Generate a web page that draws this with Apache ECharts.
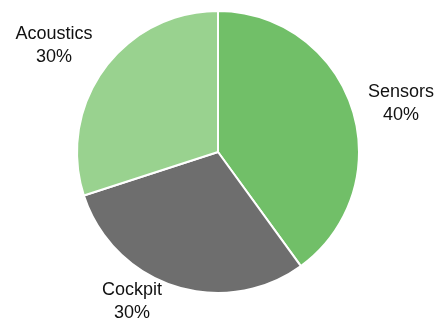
<!DOCTYPE html>
<html>
<head>
<meta charset="utf-8">
<script src="https://cdn.jsdelivr.net/npm/echarts@6/dist/echarts.min.js"></script>
<style>html,body{margin:0;padding:0;background:#fff}#c{width:440px;height:320px}</style>
</head>
<body>
<div id="c"></div>
<script>
const categories = ['Sensors', 'Cockpit', 'Acoustics'];
const values = [40, 30, 30];
const colors = ['#71bf68', '#6e6e6e', '#99d28f'];
const labelPos = [[401, 104], [132, 302], [54, 46]];

const chart = echarts.init(document.getElementById('c'), null, {renderer: 'canvas'});
chart.setOption({
  animation: false,
  series: [{
    type: 'pie',
    center: [218, 152],
    radius: [0, 141],
    startAngle: 90,
    clockwise: true,
    avoidLabelOverlap: false,
    data: categories.map((n, i) => ({name: n, value: values[i], itemStyle: {color: colors[i]}})),
    itemStyle: {borderColor: '#fff', borderWidth: 2},
    label: {
      show: true,
      position: 'outside',
      overflow: 'none',
      formatter: p => p.name + '\n' + p.value + '%',
      fontFamily: '"Liberation Sans", Arial, sans-serif',
      fontSize: 18,
      lineHeight: 23,
      color: '#111',
      align: 'center'
    },
    labelLine: {show: false},
    labelLayout: p => ({x: labelPos[p.dataIndex][0], y: labelPos[p.dataIndex][1], align: 'center', verticalAlign: 'middle', width: 200})
  }]
});
</script>
</body>
</html>
